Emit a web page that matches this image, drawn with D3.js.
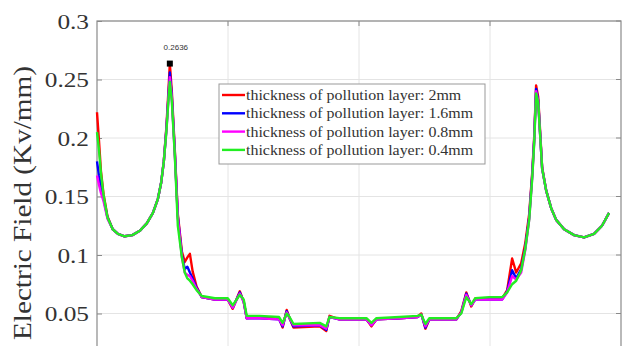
<!DOCTYPE html>
<html>
<head>
<meta charset="utf-8">
<script src="https://cdn.jsdelivr.net/npm/d3@7"></script>
<style>
  body { margin: 0; background: #fff; }
  svg { display: block; }
</style>
</head>
<body>
<svg width="624" height="346"></svg>
<script>
// distance along the insulator surface (arbitrary units, axis cut off below)
const xs = [0, 1.5, 3, 5, 8, 12, 16, 21, 27, 33, 38, 42.7, 46.5, 49, 51, 53, 54.5, 55.6, 57.1, 59.4,
  61.7, 64.8, 67, 69, 70.9, 73, 76, 80, 90, 99.8, 103.6, 109, 112, 114.3, 124, 139, 141.7, 144.8, 147, 150,
  170, 175, 177.5, 185, 205.7, 209.5, 213.3, 231, 244.6, 247.6, 250.7, 253.7, 266.7, 274.3, 278.1, 281.9, 285.7, 288.8, 299.4, 309.3,
  313.1, 316.9, 320, 323.8, 326.9, 329.9, 332.2, 333.7, 335.2, 336.8, 338.3, 339.8, 342.9, 346.7, 350.5, 356.6, 364.2, 371.8, 379.4, 385.5, 390.9];

const e2mm = [0.222, 0.198, 0.172, 0.152, 0.133, 0.122, 0.118, 0.116, 0.117, 0.121, 0.127, 0.136, 0.148, 0.162, 0.18, 0.21, 0.24, 0.2636, 0.24, 0.19,
  0.135, 0.103, 0.094, 0.098, 0.101, 0.086, 0.073, 0.064, 0.062, 0.062, 0.054, 0.069, 0.06, 0.046, 0.047, 0.046, 0.038, 0.053, 0.046, 0.038,
  0.039, 0.035, 0.048, 0.045, 0.045, 0.039, 0.045, 0.046, 0.047, 0.05, 0.037, 0.045, 0.045, 0.045, 0.052, 0.068, 0.056, 0.063, 0.063, 0.063,
  0.07, 0.097, 0.085, 0.093, 0.11, 0.135, 0.17, 0.2, 0.245, 0.235, 0.205, 0.175, 0.155, 0.14, 0.13, 0.122, 0.117, 0.115, 0.118, 0.125, 0.136];

const e16mm = [0.18, 0.168, 0.158, 0.148, 0.132, 0.122, 0.118, 0.116, 0.117, 0.121, 0.127, 0.136, 0.148, 0.162, 0.18, 0.208, 0.235, 0.256, 0.236, 0.188,
  0.133, 0.1, 0.088, 0.09, 0.085, 0.08, 0.072, 0.064, 0.062, 0.062, 0.055, 0.068, 0.06, 0.046, 0.046, 0.045, 0.039, 0.052, 0.046, 0.039,
  0.04, 0.036, 0.047, 0.045, 0.045, 0.04, 0.045, 0.046, 0.047, 0.049, 0.038, 0.045, 0.045, 0.045, 0.051, 0.067, 0.057, 0.062, 0.062, 0.062,
  0.069, 0.087, 0.08, 0.088, 0.106, 0.132, 0.168, 0.198, 0.242, 0.232, 0.203, 0.174, 0.155, 0.14, 0.13, 0.122, 0.117, 0.115, 0.118, 0.125, 0.136];

const e08mm = [0.168, 0.16, 0.153, 0.146, 0.131, 0.122, 0.118, 0.116, 0.117, 0.121, 0.127, 0.136, 0.148, 0.162, 0.18, 0.207, 0.233, 0.252, 0.234, 0.186,
  0.132, 0.098, 0.085, 0.083, 0.082, 0.078, 0.071, 0.064, 0.062, 0.062, 0.055, 0.067, 0.06, 0.046, 0.046, 0.045, 0.04, 0.051, 0.046, 0.04,
  0.04, 0.037, 0.047, 0.045, 0.045, 0.04, 0.045, 0.046, 0.047, 0.049, 0.039, 0.045, 0.045, 0.045, 0.051, 0.066, 0.057, 0.062, 0.062, 0.062,
  0.068, 0.082, 0.079, 0.085, 0.104, 0.13, 0.166, 0.196, 0.24, 0.231, 0.202, 0.174, 0.155, 0.14, 0.13, 0.122, 0.117, 0.115, 0.118, 0.125, 0.136];

const e04mm = [0.205, 0.19, 0.17, 0.151, 0.132, 0.122, 0.118, 0.116, 0.117, 0.121, 0.127, 0.136, 0.148, 0.162, 0.18, 0.206, 0.232, 0.248, 0.232, 0.185,
  0.125, 0.098, 0.085, 0.08, 0.078, 0.075, 0.07, 0.065, 0.063, 0.063, 0.057, 0.066, 0.062, 0.048, 0.048, 0.047, 0.042, 0.05, 0.047, 0.041,
  0.042, 0.039, 0.047, 0.046, 0.046, 0.042, 0.046, 0.047, 0.048, 0.049, 0.041, 0.046, 0.046, 0.046, 0.05, 0.064, 0.058, 0.063, 0.064, 0.064,
  0.068, 0.075, 0.078, 0.087, 0.105, 0.13, 0.165, 0.195, 0.238, 0.23, 0.202, 0.174, 0.155, 0.14, 0.13, 0.122, 0.117, 0.115, 0.118, 0.125, 0.136];

const seriesNames = ['thickness of pollution layer: 2mm', 'thickness of pollution layer: 1.6mm',
  'thickness of pollution layer: 0.8mm', 'thickness of pollution layer: 0.4mm'];
const seriesValues = [e2mm, e16mm, e08mm, e04mm];
const colors = ['#ff0000', '#0000ff', '#ff00ff', '#22ee22'];
const yTicks = [0.05, 0.1, 0.15, 0.2, 0.25, 0.3];
const xTicks = [100, 200, 300];
const peak = { x: 55.6, y: 0.2636, label: '0.2636' };

const serif = '"Liberation Serif", "Times New Roman", serif';
const svg = d3.select('svg');
// bottom of the plot is cut off by the picture
const m = { left: 97, right: 621, top: 21, bottom: 372 };

const x = d3.scaleLinear().domain([0, 400]).range([m.left, m.right]);
const y = d3.scaleLinear().domain([0, 0.3]).range([m.bottom, m.top]);

// grid
svg.append('g').selectAll('line').data(yTicks).join('line')
  .attr('x1', m.left).attr('x2', m.right)
  .attr('y1', d => y(d)).attr('y2', d => y(d))
  .attr('stroke', '#e4e4e4').attr('stroke-width', 1);
svg.append('g').selectAll('line').data(xTicks).join('line')
  .attr('x1', d => x(d)).attr('x2', d => x(d))
  .attr('y1', m.top).attr('y2', m.bottom)
  .attr('stroke', '#e4e4e4').attr('stroke-width', 1);

// box
svg.append('rect')
  .attr('x', m.left).attr('y', m.top)
  .attr('width', m.right - m.left).attr('height', m.bottom - m.top)
  .attr('fill', 'none').attr('stroke', '#8a8a8a').attr('stroke-width', 1.2);

// left axis
const yAxis = d3.axisLeft(y).tickValues(yTicks).tickSize(-5).tickPadding(0)
  .tickFormat(d => String(+d.toFixed(2)));
const gy = svg.append('g').attr('transform', `translate(${m.left},0)`).call(yAxis);
gy.select('.domain').remove();
gy.selectAll('.tick line').attr('stroke', '#8a8a8a');
gy.selectAll('.tick text')
  .attr('x', 0)
  .attr('transform', 'translate(-8,0) scale(1.15,1)')
  .attr('font-family', serif)
  .attr('font-size', 22).attr('fill', '#333');

// right and top ticks (mirrored)
svg.append('g').selectAll('line').data(yTicks).join('line')
  .attr('x1', m.right).attr('x2', m.right - 5)
  .attr('y1', d => y(d)).attr('y2', d => y(d))
  .attr('stroke', '#8a8a8a');
svg.append('g').selectAll('line').data(xTicks).join('line')
  .attr('x1', d => x(d)).attr('x2', d => x(d))
  .attr('y1', m.top).attr('y2', m.top + 5)
  .attr('stroke', '#8a8a8a');

// y label
svg.append('text')
  .attr('transform', 'translate(31,203) rotate(-90)')
  .attr('text-anchor', 'middle')
  .attr('font-family', serif)
  .attr('font-size', 25.5).attr('fill', '#333')
  .attr('textLength', 274).attr('lengthAdjust', 'spacingAndGlyphs')
  .text('Electric Field (Kv/mm)');

// lines
const line = d3.line().x((d, i) => x(xs[i])).y(d => y(d));
svg.append('g').selectAll('path').data(seriesValues).join('path')
  .attr('d', line)
  .attr('fill', 'none')
  .attr('stroke', (d, i) => colors[i])
  .attr('stroke-width', 2.4)
  .attr('stroke-linejoin', 'round');

// data tip
svg.append('rect')
  .attr('x', x(peak.x) - 3).attr('y', y(peak.y) - 3)
  .attr('width', 6).attr('height', 6).attr('fill', '#000');
svg.append('text')
  .attr('x', x(peak.x) + 6).attr('y', y(peak.y) - 14)
  .attr('text-anchor', 'middle')
  .attr('font-family', 'Liberation Sans, Arial, sans-serif')
  .attr('font-size', 8).attr('fill', '#333')
  .text(peak.label);

// legend
const lg = svg.append('g').attr('transform', 'translate(219,84)');
lg.append('rect').attr('width', 266).attr('height', 80)
  .attr('fill', '#fff').attr('stroke', '#999').attr('stroke-width', 1);
const rows = lg.selectAll('g').data(seriesNames).join('g')
  .attr('transform', (d, i) => `translate(0,${11 + i * 18.3})`);
rows.append('line').attr('x1', 3).attr('x2', 26)
  .attr('stroke', (d, i) => colors[i]).attr('stroke-width', 2.4);
rows.append('text')
  .attr('transform', 'translate(27,0) scale(1.1,1)')
  .attr('dy', '0.35em')
  .attr('font-family', serif)
  .attr('font-size', 14.5).attr('fill', '#333')
  .text(d => d);
</script>
</body>
</html>
